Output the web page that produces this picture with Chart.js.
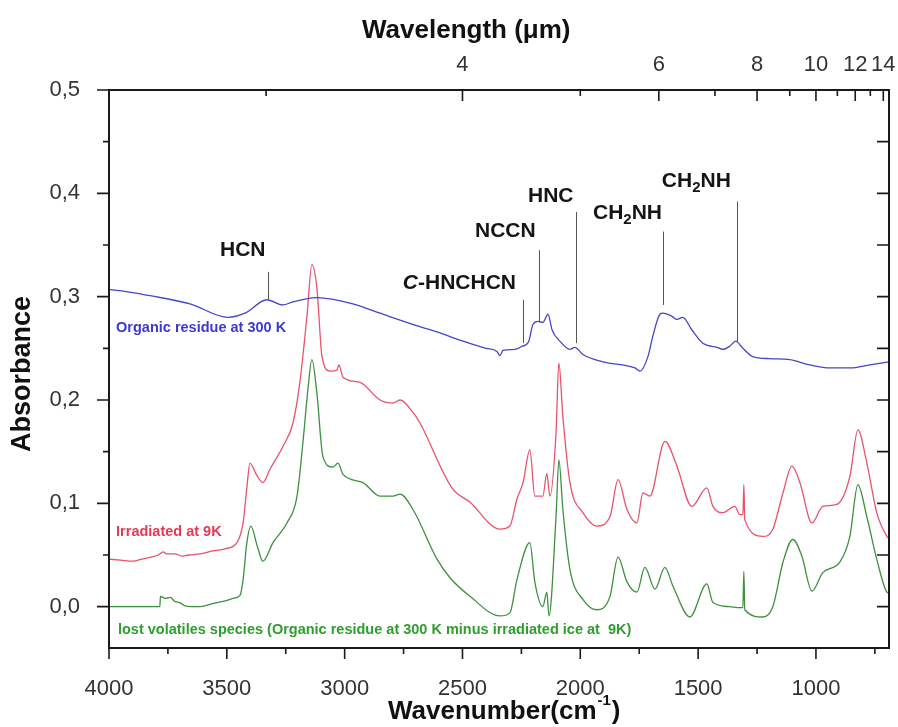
<!DOCTYPE html>
<html>
<head>
<meta charset="utf-8">
<title>IR spectra</title>
<script src="https://cdn.jsdelivr.net/npm/chart.js@4.4.1/dist/chart.umd.min.js"></script>
<style>
  html, body { margin: 0; padding: 0; background: #fff; }
  canvas { display: block; }
</style>
</head>
<body>
<canvas id="chart" width="898" height="727"></canvas>
<script>
const FONT = '"Liberation Sans", Arial, sans-serif';

// Organic residue at 300 K (blue)
const blueWn  = [4000, 3900, 3826, 3656, 3495, 3423, 3330, 3262, 3219, 3118, 2965, 2850, 2681, 2596, 2511, 2400, 2354, 2341, 2328, 2277, 2247, 2220, 2201, 2180, 2159, 2137, 2120, 2087, 2044, 2023, 1989, 1904, 1768, 1747, 1713, 1692, 1662, 1650, 1611, 1590, 1565, 1527, 1480, 1420, 1395, 1366, 1340, 1314, 1268, 1196, 1111, 1026, 941, 856, 771, 690];
const blueAbs = [0.307, 0.304, 0.301, 0.293, 0.280, 0.284, 0.297, 0.292, 0.295, 0.299, 0.293, 0.284, 0.271, 0.265, 0.258, 0.250, 0.247, 0.243, 0.248, 0.249, 0.252, 0.256, 0.273, 0.276, 0.275, 0.283, 0.268, 0.257, 0.249, 0.251, 0.244, 0.237, 0.231, 0.228, 0.242, 0.262, 0.283, 0.284, 0.281, 0.278, 0.280, 0.268, 0.255, 0.251, 0.249, 0.252, 0.257, 0.251, 0.242, 0.240, 0.239, 0.234, 0.231, 0.231, 0.234, 0.237];

// Irradiated at 9K (red)
const redWn  = [4000, 3950, 3898, 3860, 3820, 3790, 3770, 3754, 3720, 3690, 3660, 3614, 3560, 3508, 3457, 3431, 3415, 3402, 3375, 3347, 3317, 3262, 3219, 3190, 3160, 3139, 3118, 3096, 3062, 3033, 3024, 3007, 2935, 2850, 2795, 2765, 2710, 2681, 2545, 2468, 2341, 2299, 2269, 2243, 2214, 2193, 2159, 2142, 2129, 2103, 2091, 2074, 2044, 1989, 1930, 1874, 1840, 1802, 1760, 1734, 1705, 1641, 1590, 1527, 1463, 1437, 1395, 1344, 1323, 1310, 1306, 1302, 1225, 1183, 1140, 1102, 1068, 1017, 971, 911, 856, 822, 784, 742, 699, 690];
const redAbs = [0.046, 0.045, 0.044, 0.046, 0.048, 0.050, 0.053, 0.051, 0.051, 0.049, 0.050, 0.051, 0.054, 0.056, 0.062, 0.081, 0.115, 0.139, 0.128, 0.120, 0.133, 0.155, 0.178, 0.217, 0.281, 0.331, 0.309, 0.242, 0.228, 0.229, 0.234, 0.222, 0.217, 0.200, 0.197, 0.200, 0.188, 0.178, 0.115, 0.101, 0.075, 0.078, 0.104, 0.120, 0.152, 0.107, 0.107, 0.129, 0.107, 0.168, 0.236, 0.184, 0.120, 0.091, 0.078, 0.087, 0.123, 0.094, 0.081, 0.110, 0.107, 0.160, 0.136, 0.097, 0.115, 0.097, 0.091, 0.097, 0.089, 0.089, 0.118, 0.084, 0.068, 0.075, 0.110, 0.136, 0.120, 0.081, 0.097, 0.099, 0.126, 0.171, 0.139, 0.091, 0.068, 0.066];

// lost volatiles (green)
const greenWn  = [4000, 3784, 3782, 3760, 3740, 3720, 3700, 3680, 3650, 3614, 3560, 3500, 3474, 3444, 3431, 3415, 3398, 3370, 3347, 3304, 3245, 3202, 3177, 3156, 3139, 3118, 3092, 3050, 3028, 3007, 2922, 2850, 2795, 2765, 2710, 2608, 2553, 2468, 2341, 2299, 2269, 2214, 2193, 2159, 2142, 2133, 2103, 2091, 2074, 2044, 1989, 1930, 1874, 1840, 1802, 1760, 1726, 1683, 1641, 1607, 1535, 1463, 1437, 1366, 1323, 1310, 1306, 1302, 1225, 1183, 1140, 1098, 1060, 1017, 971, 899, 856, 822, 784, 742, 699, 690];
const greenAbs = [0.000, 0.000, 0.010, 0.008, 0.009, 0.005, 0.004, 0.001, 0.000, 0.000, 0.003, 0.006, 0.008, 0.011, 0.026, 0.062, 0.078, 0.058, 0.044, 0.062, 0.081, 0.107, 0.159, 0.210, 0.239, 0.207, 0.145, 0.135, 0.139, 0.128, 0.120, 0.107, 0.107, 0.109, 0.094, 0.046, 0.028, 0.010, -0.009, -0.006, 0.026, 0.062, 0.024, 0.000, 0.014, -0.009, 0.087, 0.142, 0.094, 0.036, 0.007, -0.003, 0.010, 0.048, 0.024, 0.014, 0.038, 0.017, 0.038, 0.020, -0.010, 0.022, 0.004, 0.000, -0.001, -0.001, 0.034, -0.003, -0.010, 0.000, 0.043, 0.065, 0.049, 0.015, 0.033, 0.043, 0.068, 0.118, 0.087, 0.046, 0.014, 0.013];

// axes
const xMin = 690, xMax = 4000;
const yMin = -0.04, yMax = 0.5;
const xMajor = [4000, 3500, 3000, 2500, 2000, 1500, 1000];
const xMinor = [3750, 3250, 2750, 2250, 1750, 1250, 750];
const yMajor = [0, 0.1, 0.2, 0.3, 0.4, 0.5];
const yMinor = [0.05, 0.15, 0.25, 0.35, 0.45];
const umMajor = [4, 6, 8, 10, 12, 14];
const umMinor = [3, 5, 7, 9, 11, 13];

// band assignments: text parts, text anchor (left, middle) and marker line
const annoParts = [
  [['HCN', '']],
  [['C', 'i'], ['-HNCHCN', '']],
  [['NCCN', '']],
  [['HNC', '']],
  [['CH', ''], ['2', 'sub'], ['NH', '']],
  [['CH', ''], ['2', 'sub'], ['NH', '']]
];
const annoTextWn  = [3529, 2753, 2447, 2222, 1946, 1654];
const annoTextAbs = [0.345, 0.313, 0.363, 0.397, 0.381, 0.412];
const annoLineWn  = [3325, 2243, 2176, 2019, 1650, 1336];
const annoLineTop = [0.324, 0.297, 0.345, 0.382, 0.363, 0.392];
const annoLineBot = [0.297, 0.255, 0.275, 0.255, 0.292, 0.256];

const seriesNames = ['Organic residue at 300 K', 'Irradiated at 9K', 'lost volatiles species (Organic residue at 300 K minus irradiated ice at  9K)'];
const seriesColors = ['#4646c8', '#e8536c', '#3f8f3f'];
const seriesLabelColors = ['#3a3ad0', '#e23a55', '#2e9e2e'];
const seriesLabelWn = [3970, 3970, 3962];
const seriesLabelAbs = [0.270, 0.072, -0.023];

const toPoints = (wn, abs) => wn.map((w, i) => ({ x: w, y: abs[i] }));

const fixSize = (prop, size) => s => { s[prop] = size; };

const framePlugin = {
  id: 'frame',
  afterDraw(chart) {
    const { ctx, chartArea: ca, scales } = chart;
    const x = scales.x, y = scales.y;
    ctx.save();
    ctx.strokeStyle = '#1a1a1a';
    ctx.lineWidth = 2;
    ctx.strokeRect(ca.left, ca.top, ca.right - ca.left, ca.bottom - ca.top);

    ctx.lineWidth = 1.6;
    ctx.beginPath();
    xMajor.forEach(v => { const p = x.getPixelForValue(v); ctx.moveTo(p, ca.bottom); ctx.lineTo(p, ca.bottom + 11); });
    xMinor.forEach(v => { const p = x.getPixelForValue(v); ctx.moveTo(p, ca.bottom); ctx.lineTo(p, ca.bottom + 6); });
    yMajor.forEach(v => { const p = y.getPixelForValue(v); ctx.moveTo(ca.left - 12, p); ctx.lineTo(ca.left, p); });
    yMinor.forEach(v => { const p = y.getPixelForValue(v); ctx.moveTo(ca.left - 6, p); ctx.lineTo(ca.left, p); });
    yMajor.concat(yMinor).forEach(v => { const p = y.getPixelForValue(v); ctx.moveTo(ca.right - 12, p); ctx.lineTo(ca.right, p); });
    umMajor.forEach(u => { const p = x.getPixelForValue(10000 / u); ctx.moveTo(p, ca.top); ctx.lineTo(p, ca.top + 11); });
    umMinor.forEach(u => { const p = x.getPixelForValue(10000 / u); ctx.moveTo(p, ca.top); ctx.lineTo(p, ca.top + 6); });
    ctx.stroke();

    // wavelength tick labels on the top axis
    ctx.fillStyle = '#333';
    ctx.font = '22px ' + FONT;
    ctx.textAlign = 'center';
    ctx.textBaseline = 'alphabetic';
    umMajor.forEach(u => ctx.fillText(String(u), x.getPixelForValue(10000 / u), 71));

    // axis titles
    ctx.fillStyle = '#111';
    ctx.textAlign = 'left';
    ctx.font = 'bold 26px ' + FONT;
    ctx.fillText('Wavelength (\u03bcm)', 362, 38);

    let bx = 388;
    ctx.fillText('Wavenumber(cm', bx, 719);
    bx += ctx.measureText('Wavenumber(cm').width;
    ctx.font = 'bold 15px ' + FONT;
    ctx.fillText('-1', bx + 1, 705);
    bx += ctx.measureText('-1').width + 2;
    ctx.font = 'bold 26px ' + FONT;
    ctx.fillText(')', bx, 719);

    ctx.save();
    ctx.translate(23, 374);
    ctx.rotate(-Math.PI / 2);
    ctx.textAlign = 'center';
    ctx.textBaseline = 'middle';
    ctx.font = 'bold 27px ' + FONT;
    ctx.fillText('Absorbance', 0, 0);
    ctx.restore();
    ctx.restore();
  }
};

const labelPlugin = {
  id: 'bandLabels',
  afterDatasetsDraw(chart) {
    const { ctx, scales } = chart;
    const x = scales.x, y = scales.y;
    ctx.save();
    ctx.strokeStyle = '#555';
    ctx.lineWidth = 1;
    ctx.beginPath();
    annoLineWn.forEach((w, i) => {
      const px = Math.round(x.getPixelForValue(w)) + 0.5;
      ctx.moveTo(px, y.getPixelForValue(annoLineTop[i]));
      ctx.lineTo(px, y.getPixelForValue(annoLineBot[i]));
    });
    ctx.stroke();

    ctx.fillStyle = '#151515';
    ctx.textBaseline = 'middle';
    ctx.textAlign = 'left';
    annoParts.forEach((parts, i) => {
      let px = x.getPixelForValue(annoTextWn[i]);
      const py = y.getPixelForValue(annoTextAbs[i]);
      parts.forEach(([txt, style]) => {
        if (style === 'sub') {
          ctx.font = 'bold 15px ' + FONT;
          ctx.fillText(txt, px, py + 7);
        } else {
          ctx.font = (style === 'i' ? 'italic ' : '') + 'bold 21px ' + FONT;
          ctx.fillText(txt, px, py);
        }
        px += ctx.measureText(txt).width;
      });
    });

    ctx.font = 'bold 14.5px ' + FONT;
    seriesNames.forEach((name, i) => {
      ctx.fillStyle = seriesLabelColors[i];
      ctx.fillText(name, x.getPixelForValue(seriesLabelWn[i]), y.getPixelForValue(seriesLabelAbs[i]));
    });
    ctx.restore();
  }
};

const tickFont = { family: FONT, size: 22 };

new Chart(document.getElementById('chart'), {
  type: 'line',
  data: {
    datasets: [
      { label: seriesNames[0], data: toPoints(blueWn, blueAbs), borderColor: seriesColors[0] },
      { label: seriesNames[1], data: toPoints(redWn, redAbs), borderColor: seriesColors[1] },
      { label: seriesNames[2], data: toPoints(greenWn, greenAbs), borderColor: seriesColors[2] }
    ]
  },
  options: {
    responsive: false,
    animation: false,
    layout: { padding: 0 },
    elements: {
      point: { radius: 0 },
      line: { borderWidth: 1.3, cubicInterpolationMode: 'monotone', fill: false }
    },
    plugins: { legend: { display: false }, tooltip: { enabled: false } },
    scales: {
      x: {
        type: 'linear', position: 'bottom', min: xMin, max: xMax, reverse: true,
        afterBuildTicks: s => { s.ticks = xMajor.map(v => ({ value: v })); },
        afterFit: fixSize('height', 79),
        ticks: { font: tickFont, color: '#333', padding: 20, maxRotation: 0, autoSkip: false,
          callback: v => String(v) },
        grid: { display: false }, border: { display: false }
      },
      x2: {
        type: 'linear', position: 'top', min: xMin, max: xMax, reverse: true,
        afterFit: fixSize('height', 90),
        ticks: { display: false },
        grid: { display: false }, border: { display: false }
      },
      y: {
        type: 'linear', position: 'left', min: yMin, max: yMax,
        afterBuildTicks: s => { s.ticks = yMajor.map(v => ({ value: v })); },
        afterFit: fixSize('width', 109),
        ticks: { font: tickFont, color: '#333', padding: 21,
          callback: v => v.toFixed(1).replace('.', ',') },
        grid: { display: false }, border: { display: false }
      },
      y2: {
        type: 'linear', position: 'right', min: yMin, max: yMax,
        afterFit: fixSize('width', 9),
        ticks: { display: false },
        grid: { display: false }, border: { display: false }
      }
    }
  },
  plugins: [labelPlugin, framePlugin]
});
</script>
</body>
</html>
